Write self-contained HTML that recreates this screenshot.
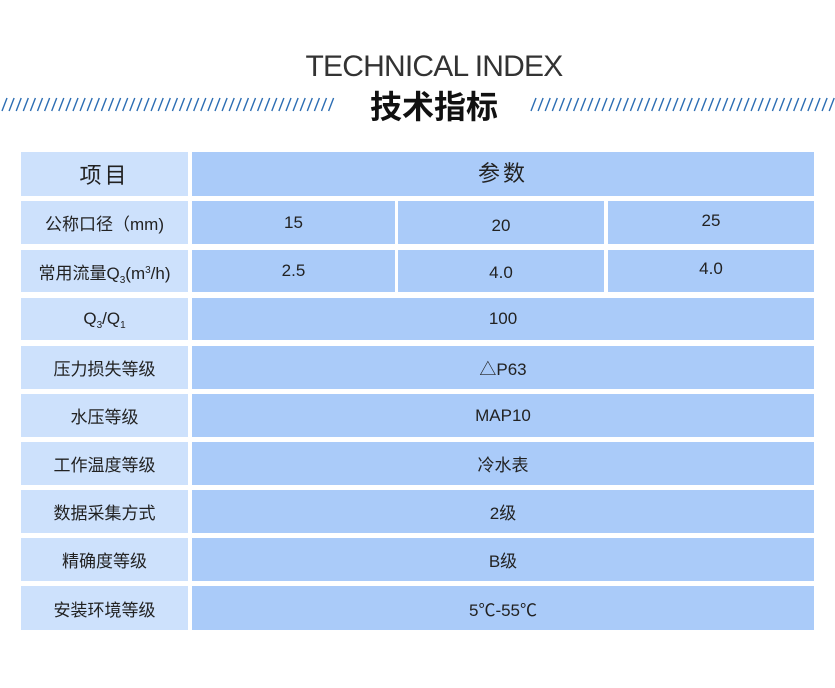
<!DOCTYPE html>
<html><head><meta charset="utf-8"><style>
body{margin:0;width:835px;height:688px;background:#fff;position:relative;overflow:hidden;font-family:"Liberation Sans","Noto Sans CJK SC",sans-serif;color:#222}
.c{position:absolute;display:flex;align-items:center;justify-content:center;font-size:17px}
.l{background:#cde1fc}
.r{background:#aacbf9}
sub{font-size:10px;vertical-align:-4px;line-height:0}
sup{font-size:10px;vertical-align:6px;line-height:0}
</style></head><body>
<div style="position:absolute;left:0;top:50px;width:868px;text-align:center;font-size:30px;color:#333;font-weight:300;letter-spacing:-0.8px">TECHNICAL INDEX</div>
<div style="position:absolute;left:0;top:82px;width:868px;text-align:center;font-size:32px;font-weight:bold;color:#111">技术指标</div>
<svg id="h" style="position:absolute;left:0;top:0" width="835" height="130"></svg>
<script>
var s='';
for(var x=2;x<334;x+=7.1){s+='<line x1="'+x+'" y1="111" x2="'+(x+5)+'" y2="98" stroke="#2c6db3" stroke-width="1.4"/>';}
for(var x=531;x<840;x+=7.1){s+='<line x1="'+x+'" y1="111" x2="'+(x+5)+'" y2="98" stroke="#2c6db3" stroke-width="1.4"/>';}
document.getElementById('h').innerHTML=s;
</script>
<div class="c l" style="left:21px;top:152px;width:167px;height:44px;font-size:22px;letter-spacing:3px">项目</div>
<div class="c r" style="left:192px;top:152px;width:622px;height:44px;font-size:22px;letter-spacing:3px;padding-bottom:4px;box-sizing:border-box">参数</div>

<div class="c l" style="left:21px;top:201px;width:167px;height:43px">公称口径（mm)</div>
<div class="c r" style="left:192px;top:201px;width:203px;height:43px">15</div>
<div class="c r" style="left:398px;top:201px;width:206px;height:43px;padding-top:6px;box-sizing:border-box">20</div>
<div class="c r" style="left:608px;top:201px;width:206px;height:43px;padding-bottom:4px;box-sizing:border-box">25</div>

<div class="c l" style="left:21px;top:250px;width:167px;height:42px"><span>常用流量Q<sub>3</sub>(m<sup>3</sup>/h)</span></div>
<div class="c r" style="left:192px;top:250px;width:203px;height:42px">2.5</div>
<div class="c r" style="left:398px;top:250px;width:206px;height:42px;padding-top:4px;box-sizing:border-box">4.0</div>
<div class="c r" style="left:608px;top:250px;width:206px;height:42px;padding-bottom:4px;box-sizing:border-box">4.0</div>

<div class="c l" style="left:21px;top:298px;width:167px;height:42px"><span>Q<sub>3</sub>/Q<sub>1</sub></span></div>
<div class="c r" style="left:192px;top:298px;width:622px;height:42px">100</div>
<div class="c l" style="left:21px;top:346px;width:167px;height:43px">压力损失等级</div>
<div class="c r" style="left:192px;top:346px;width:622px;height:43px">△P63</div>
<div class="c l" style="left:21px;top:394px;width:167px;height:43px">水压等级</div>
<div class="c r" style="left:192px;top:394px;width:622px;height:43px">MAP10</div>
<div class="c l" style="left:21px;top:442px;width:167px;height:43px">工作温度等级</div>
<div class="c r" style="left:192px;top:442px;width:622px;height:43px">冷水表</div>
<div class="c l" style="left:21px;top:490px;width:167px;height:43px">数据采集方式</div>
<div class="c r" style="left:192px;top:490px;width:622px;height:43px">2级</div>
<div class="c l" style="left:21px;top:538px;width:167px;height:43px">精确度等级</div>
<div class="c r" style="left:192px;top:538px;width:622px;height:43px">B级</div>
<div class="c l" style="left:21px;top:586px;width:167px;height:44px">安装环境等级</div>
<div class="c r" style="left:192px;top:586px;width:622px;height:44px">5℃-55℃</div>
</body></html>
